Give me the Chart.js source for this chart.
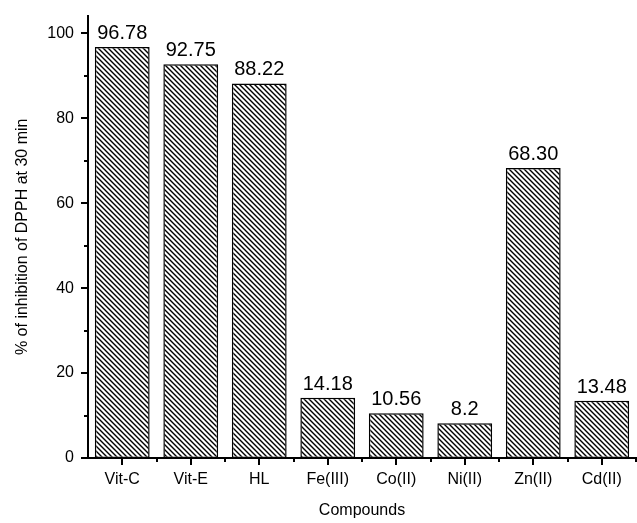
<!DOCTYPE html>
<html>
<head>
<meta charset="utf-8">
<script src="https://cdn.jsdelivr.net/npm/chart.js@4/dist/chart.umd.min.js"></script>
<style>
  html, body { margin: 0; padding: 0; background: #fff; }
  #wrap { width: 637px; height: 523px; position: relative; }
</style>
</head>
<body>
<div id="wrap"><canvas id="DpphChart"></canvas></div>
<script>
var compounds = ["Vit-C", "Vit-E", "HL", "Fe(III)", "Co(II)", "Ni(II)", "Zn(II)", "Cd(II)"];
var inhibition = [96.78, 92.75, 88.22, 14.18, 10.56, 8.2, 68.30, 13.48];
var valueLabels = ["96.78", "92.75", "88.22", "14.18", "10.56", "8.2", "68.30", "13.48"];
var yTicks = [0, 20, 40, 60, 80, 100];
var yMinorTicks = [10, 30, 50, 70, 90];

var FONT = "'Liberation Sans', Arial, sans-serif";

// hatch pattern, lines running top-left to bottom-right
function makeHatch() {
    var size = 5;
    var c = document.createElement("canvas");
    c.width = size;
    c.height = size;
    var ctx = c.getContext("2d");
    ctx.fillStyle = "#fff";
    ctx.fillRect(0, 0, size, size);
    ctx.strokeStyle = "#000";
    ctx.lineWidth = 1.4;
    ctx.beginPath();
    ctx.moveTo(-1, -1);
    ctx.lineTo(size + 1, size + 1);
    ctx.moveTo(-1, size - 1);
    ctx.lineTo(1, size + 1);
    ctx.moveTo(size - 1, -1);
    ctx.lineTo(size + 1, 1);
    ctx.stroke();
    return ctx.createPattern(c, "repeat");
}

// tick marks (major + minor) and value labels
var axisMarks = {
    id: "axisMarks",
    afterDatasetsDraw: function (chart) {
        var ctx = chart.ctx;
        var x = chart.scales.x, y = chart.scales.y;
        var area = chart.chartArea;
        ctx.save();
        ctx.strokeStyle = "#000";
        ctx.lineWidth = 2;
        ctx.beginPath();
        yTicks.forEach(function (v) {
            var py = Math.round(y.getPixelForValue(v));
            ctx.moveTo(area.left, py);
            ctx.lineTo(area.left - 7, py);
        });
        yMinorTicks.forEach(function (v) {
            var py = Math.round(y.getPixelForValue(v));
            ctx.moveTo(area.left, py);
            ctx.lineTo(area.left - 4, py);
        });
        for (var i = 0; i < compounds.length; i++) {
            var px = Math.round(x.getPixelForValue(i));
            ctx.moveTo(px, area.bottom);
            ctx.lineTo(px, area.bottom + 7);
            var pb = Math.round(x.getPixelForValue(i + 0.5));
            ctx.moveTo(pb, area.bottom);
            ctx.lineTo(pb, area.bottom + 4);
        }
        ctx.stroke();

        // value labels above the bars
        ctx.fillStyle = "#000";
        ctx.font = "20px " + FONT;
        ctx.textAlign = "center";
        ctx.textBaseline = "alphabetic";
        var meta = chart.getDatasetMeta(0);
        meta.data.forEach(function (bar, i) {
            ctx.fillText(valueLabels[i], bar.x, bar.y - 8);
        });
        ctx.restore();
    }
};

document.addEventListener("DOMContentLoaded", function () {
    var canvas = document.getElementById("DpphChart");

    new Chart(canvas, {
        type: "bar",
        data: {
            labels: compounds,
            datasets: [{
                data: inhibition,
                backgroundColor: makeHatch(),
                borderColor: "#000",
                borderWidth: 1.5,
                borderSkipped: false,
                categoryPercentage: 1.0,
                barPercentage: 0.8
            }]
        },
        options: {
            responsive: true,
            maintainAspectRatio: false,
            animation: false,
            layout: { padding: { top: 12, right: 1, left: 0, bottom: 0 } },
            plugins: {
                legend: { display: false },
                tooltip: { enabled: false }
            },
            scales: {
                x: {
                    grid: { display: false },
                    border: { display: true, color: "#000", width: 2 },
                    ticks: { color: "#000", font: { family: FONT, size: 16 }, padding: 4, maxRotation: 0 },
                    title: {
                        display: true,
                        text: "Compounds",
                        color: "#000",
                        font: { family: FONT, size: 16 },
                        padding: { top: 0, bottom: 3 }
                    },
                    afterFit: function (scale) { scale.height = 65; }
                },
                y: {
                    min: 0,
                    max: 104.2,
                    grid: { display: false },
                    border: { display: true, color: "#000", width: 2 },
                    ticks: { color: "#000", font: { family: FONT, size: 16 }, padding: 6 },
                    afterBuildTicks: function (scale) {
                        scale.ticks = yTicks.map(function (v) { return { value: v }; });
                    },
                    title: {
                        display: true,
                        text: "% of inhibition of DPPH at 30 min",
                        color: "#000",
                        font: { family: FONT, size: 16 },
                        padding: { top: 13, bottom: 0 }
                    },
                    afterFit: function (scale) { scale.width = 88; }
                }
            }
        },
        plugins: [axisMarks]
    });
});
</script>
</body>
</html>
